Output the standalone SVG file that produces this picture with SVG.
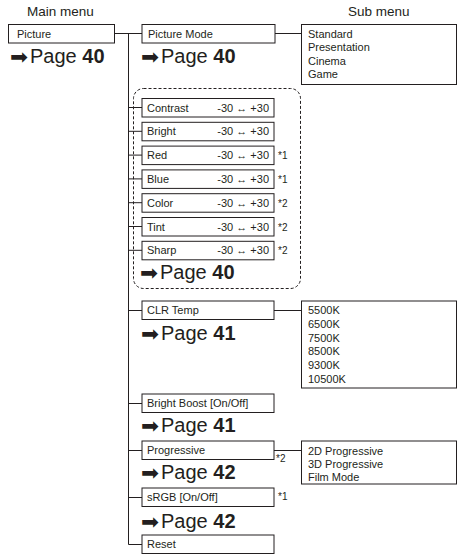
<svg xmlns="http://www.w3.org/2000/svg" width="463" height="555" viewBox="0 0 463 555">
<style>
.box{fill:#fff;stroke:#231f20;stroke-width:1}
.ln{fill:none;stroke:#231f20;stroke-width:1}
.dash{fill:none;stroke:#231f20;stroke-width:1;stroke-dasharray:3 2}
.t{font-family:"Liberation Sans",Arial,sans-serif;font-size:11px;fill:#231f20}
.h{font-family:"Liberation Sans",Arial,sans-serif;font-size:13.5px;fill:#231f20}
.fn{font-family:"Liberation Sans",Arial,sans-serif;font-size:10px;fill:#231f20}
.pg{font-family:"Liberation Sans",Arial,sans-serif;font-size:20px;fill:#231f20}
.ar{font-family:"DejaVu Sans",sans-serif;font-size:21px;fill:#231f20}
.b{font-weight:bold}
</style>
<rect width="463" height="555" fill="#fff"/>
<text class="h" x="27" y="16">Main menu</text>
<text class="h" x="348" y="16">Sub menu</text>
<g id="connectors">
<path class="ln" d="M115 33.5H142M128.5 33.5V544.5H142M275 33.5H301"/>
<path class="ln" d="M128.5 107.5H142M128.5 131.3H142M128.5 155.1H142M128.5 178.9H142M128.5 202.7H142M128.5 226.5H142M128.5 250.3H142"/>
<path class="ln" d="M128.5 310.5H142M274 310.5H301M128.5 403.5H142M128.5 450.5H142M274 450.5H301M128.5 497.5H142"/>
</g>
<g id="picture">
<rect class="box" x="8.5" y="24.5" width="106" height="18.5"/>
<text class="t" x="17" y="37.5">Picture</text>
<text class="ar" x="10" y="63.5" textLength="18" lengthAdjust="spacingAndGlyphs">➡</text><text class="pg" x="30" y="63">Page <tspan class="b">40</tspan></text>
</g>
<g id="picture-mode">
<rect class="box" x="142" y="24.5" width="133" height="18.5"/>
<text class="t" x="148" y="37.5">Picture Mode</text>
<text class="ar" x="141" y="63.5" textLength="18" lengthAdjust="spacingAndGlyphs">➡</text><text class="pg" x="161" y="63">Page <tspan class="b">40</tspan></text>
</g>
<g id="sub-mode">
<rect class="box" x="301.5" y="24.5" width="155" height="60"/>
<text class="t" x="308" y="37.5">Standard</text>
<text class="t" x="308" y="51">Presentation</text>
<text class="t" x="308" y="64.5">Cinema</text>
<text class="t" x="308" y="78">Game</text>
</g>
<g id="adjust-group">
<rect class="dash" x="133.5" y="88.5" width="167" height="200" rx="10"/>
</g>
<g id="contrast">
<rect class="box" x="142" y="98.5" width="132" height="18.5"/>
<text class="t" x="147" y="111.5">Contrast</text><text class="t" x="269" y="111.5" text-anchor="end">-30 ↔ +30</text>
</g>
<g id="bright">
<rect class="box" x="142" y="122.3" width="132" height="18.5"/>
<text class="t" x="147" y="135.3">Bright</text><text class="t" x="269" y="135.3" text-anchor="end">-30 ↔ +30</text>
</g>
<g id="red">
<rect class="box" x="142" y="146.1" width="132" height="18.5"/>
<text class="t" x="147" y="159.1">Red</text><text class="t" x="269" y="159.1" text-anchor="end">-30 ↔ +30</text>
<text class="fn" x="278" y="159.1">*1</text>
</g>
<g id="blue">
<rect class="box" x="142" y="169.9" width="132" height="18.5"/>
<text class="t" x="147" y="182.9">Blue</text><text class="t" x="269" y="182.9" text-anchor="end">-30 ↔ +30</text>
<text class="fn" x="278" y="182.9">*1</text>
</g>
<g id="color">
<rect class="box" x="142" y="193.7" width="132" height="18.5"/>
<text class="t" x="147" y="206.7">Color</text><text class="t" x="269" y="206.7" text-anchor="end">-30 ↔ +30</text>
<text class="fn" x="278" y="206.7">*2</text>
</g>
<g id="tint">
<rect class="box" x="142" y="217.5" width="132" height="18.5"/>
<text class="t" x="147" y="230.5">Tint</text><text class="t" x="269" y="230.5" text-anchor="end">-30 ↔ +30</text>
<text class="fn" x="278" y="230.5">*2</text>
</g>
<g id="sharp">
<rect class="box" x="142" y="241.3" width="132" height="18.5"/>
<text class="t" x="147" y="254.3">Sharp</text><text class="t" x="269" y="254.3" text-anchor="end">-30 ↔ +30</text>
<text class="fn" x="278" y="254.3">*2</text>
<text class="ar" x="140" y="279.5" textLength="18" lengthAdjust="spacingAndGlyphs">➡</text><text class="pg" x="160" y="279">Page <tspan class="b">40</tspan></text>
</g>
<g id="clr-temp">
<rect class="box" x="142" y="301" width="132" height="18.5"/>
<text class="t" x="147" y="314">CLR Temp</text>
<text class="ar" x="141" y="340.5" textLength="18" lengthAdjust="spacingAndGlyphs">➡</text><text class="pg" x="161" y="340">Page <tspan class="b">41</tspan></text>
</g>
<g id="sub-temp">
<rect class="box" x="301.5" y="301" width="155" height="87"/>
<text class="t" x="308" y="314">5500K</text>
<text class="t" x="308" y="327.8">6500K</text>
<text class="t" x="308" y="341.6">7500K</text>
<text class="t" x="308" y="355.4">8500K</text>
<text class="t" x="308" y="369.2">9300K</text>
<text class="t" x="308" y="383">10500K</text>
</g>
<g id="bright-boost">
<rect class="box" x="142" y="394" width="132" height="18.5"/>
<text class="t" x="147" y="407">Bright Boost [On/Off]</text>
<text class="ar" x="141" y="432.5" textLength="18" lengthAdjust="spacingAndGlyphs">➡</text><text class="pg" x="161" y="432">Page <tspan class="b">41</tspan></text>
</g>
<g id="progressive">
<rect class="box" x="142" y="441" width="132" height="18.5"/>
<text class="t" x="147" y="454">Progressive</text>
<text class="fn" x="276" y="462">*2</text>
<text class="ar" x="141" y="479.5" textLength="18" lengthAdjust="spacingAndGlyphs">➡</text><text class="pg" x="161" y="479">Page <tspan class="b">42</tspan></text>
</g>
<g id="sub-progressive">
<rect class="box" x="301.5" y="441" width="155" height="43"/>
<text class="t" x="308" y="454.5">2D Progressive</text>
<text class="t" x="308" y="467.5">3D Progressive</text>
<text class="t" x="308" y="480.5">Film Mode</text>
</g>
<g id="srgb">
<rect class="box" x="142" y="488" width="132" height="18.5"/>
<text class="t" x="147" y="501">sRGB [On/Off]</text>
<text class="fn" x="278" y="500">*1</text>
<text class="ar" x="141" y="528.5" textLength="18" lengthAdjust="spacingAndGlyphs">➡</text><text class="pg" x="161" y="528">Page <tspan class="b">42</tspan></text>
</g>
<g id="reset">
<rect class="box" x="142" y="535" width="132" height="18.5"/>
<text class="t" x="147" y="548">Reset</text>
</g>
</svg>
